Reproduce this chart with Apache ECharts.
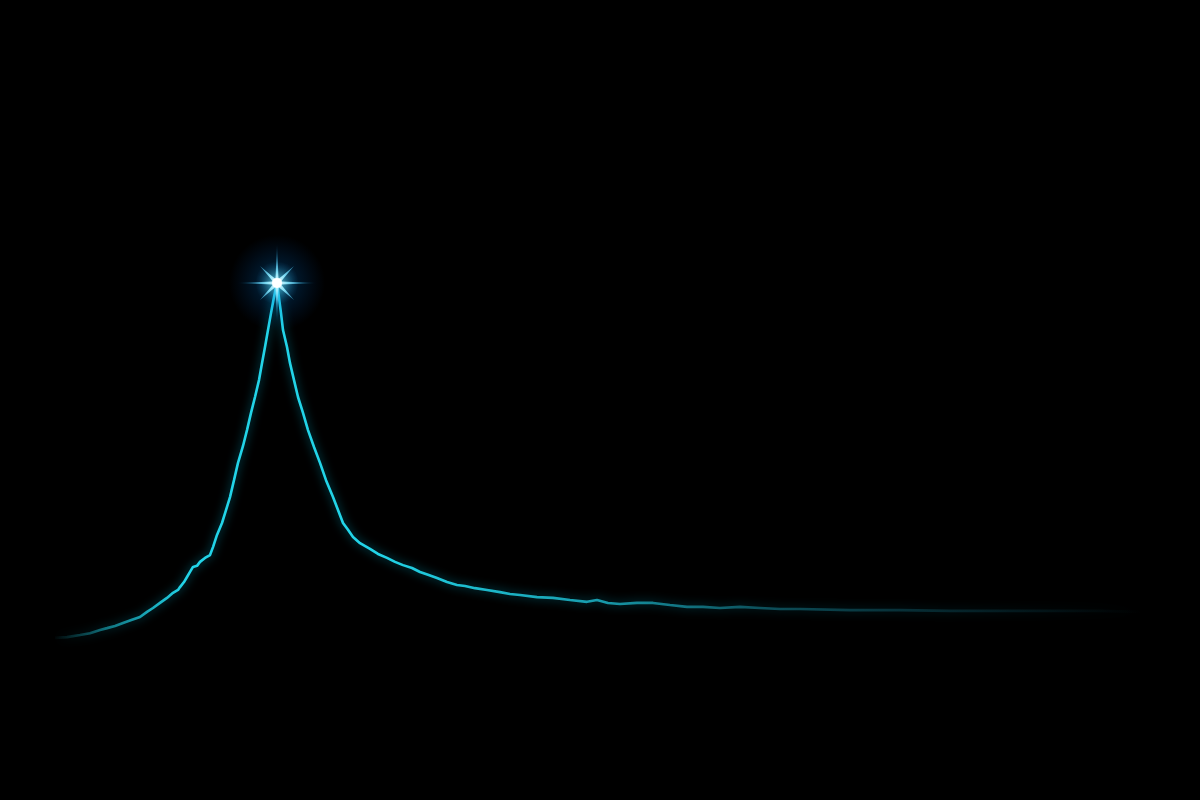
<!DOCTYPE html>
<html>
<head>
<meta charset="utf-8">
<script src="https://cdn.jsdelivr.net/npm/echarts@6/dist/echarts.min.js"></script>
<style>
  html, body { margin: 0; padding: 0; background: #000; }
  #chart { width: 1200px; height: 800px; }
</style>
</head>
<body>
<div id="chart"></div>
<script>
// time axis (arbitrary units) and signal intensity (peak ~ 100)
const time = [
  5.5, 6.7, 8.0, 9.0, 10.0, 10.7, 11.5, 12.3, 13.2, 14.0,
  14.7, 15.3, 16.0, 16.7, 17.3, 17.8, 18.0, 18.4, 18.7, 19.0,
  19.3, 19.7, 20.0, 20.2, 20.5, 20.7, 21.0, 21.3, 21.7, 22.2,
  22.6, 23.0, 23.4, 23.8, 24.3, 24.7, 25.1, 25.5, 25.9, 26.2,
  26.5, 26.8, 27.1, 27.4, 27.7, 27.9, 28.1, 28.3, 28.7, 29.0,
  29.4, 29.8, 30.3, 30.8, 31.4, 32.0, 32.6, 33.3, 33.8, 34.3,
  34.8, 35.3, 36.0, 37.0, 37.8, 38.7, 39.5, 40.3, 41.2, 42.0,
  42.8, 43.7, 44.7, 45.7, 46.5, 47.5, 48.7, 50.0, 51.0, 52.0,
  53.7, 55.3, 57.0, 58.7, 59.7, 60.8, 62.0, 63.7, 65.3, 67.0,
  68.7, 70.3, 72.0, 74.0, 76.0, 78.0, 80.0, 85.0, 90.0, 95.0,
  100.0, 105.0, 110.0, 114.0
]
const intensity = [
  0.6, 0.8, 1.4, 1.9, 2.8, 3.3, 3.9, 4.7, 5.6, 6.4,
  7.8, 8.9, 10.3, 11.7, 13.1, 13.9, 14.7, 16.1, 17.5, 18.9,
  20.3, 20.6, 21.7, 21.9, 22.8, 22.8, 23.6, 25.8, 29.2, 32.5,
  36.1, 39.7, 44.4, 49.2, 53.9, 58.3, 63.1, 67.5, 72.2, 76.9,
  81.4, 86.1, 90.8, 95.3, 99.2, 95.0, 90.8, 86.1, 81.4, 76.9,
  72.2, 67.5, 63.1, 58.3, 53.6, 49.2, 44.4, 39.7, 36.1, 32.5,
  30.6, 28.6, 26.9, 25.3, 23.9, 22.8, 21.7, 20.8, 20.0, 18.9,
  18.1, 17.2, 16.1, 15.3, 15.0, 14.4, 13.9, 13.3, 12.8, 12.5,
  11.9, 11.7, 11.1, 10.6, 11.1, 10.3, 10.0, 10.3, 10.3, 9.7,
  9.2, 9.2, 8.9, 9.2, 8.9, 8.6, 8.6, 8.3, 8.3, 8.1,
  8.1, 8.1, 8.1, 7.8
]

const points = time.map((t, i) => [t, intensity[i]])

// 8-point flare for the peak
const starPath = 'path://M0,-40 L1.5,-4 L17,-17 L4,-1.5 L40,0 L4,1.5 L17,17 L1.5,4 ' +
  'L0,40 L-1.5,4 L-17,17 L-4,1.5 L-40,0 L-4,-1.5 L-17,-17 L-1.5,-4 Z'

const chart = echarts.init(document.getElementById('chart'))

chart.setOption({
  backgroundColor: '#000',
  animation: false,
  grid: { left: 0, right: 0, top: 280, bottom: 160 },
  xAxis: { type: 'value', min: 0, max: 120, show: false },
  yAxis: { type: 'value', min: 0, max: 100, show: false },
  series: [{
    type: 'line',
    data: points,
    showSymbol: false,
    clip: false,
    smooth: false,
    lineStyle: {
      width: 2.6,
      color: new echarts.graphic.LinearGradient(0, 0, 1, 0, [
        { offset: 0, color: 'rgba(30,200,220,0)' },
        { offset: 0.05, color: 'rgba(30,200,220,0.55)' },
        { offset: 0.12, color: '#22d4e8' },
        { offset: 0.3, color: '#22d4e8' },
        { offset: 0.5, color: 'rgba(30,190,210,0.8)' },
        { offset: 0.65, color: 'rgba(25,150,170,0.5)' },
        { offset: 0.85, color: 'rgba(20,110,130,0.25)' },
        { offset: 1, color: 'rgba(20,100,120,0)' }
      ]),
      shadowBlur: 10,
      shadowColor: 'rgba(0,190,225,0.6)'
    },
    markPoint: {
      silent: true,
      label: { show: false },
      data: [
        {
          type: 'max', symbol: 'circle', symbolSize: 96,
          itemStyle: {
            color: new echarts.graphic.RadialGradient(0.5, 0.5, 0.5, [
              { offset: 0, color: 'rgba(160,240,255,0.95)' },
              { offset: 0.15, color: 'rgba(30,185,240,0.55)' },
              { offset: 0.45, color: 'rgba(0,120,220,0.18)' },
              { offset: 1, color: 'rgba(0,90,200,0)' }
            ])
          }
        },
        {
          type: 'max', symbol: starPath, symbolSize: 80,
          itemStyle: {
            color: new echarts.graphic.RadialGradient(0.5, 0.5, 0.5, [
              { offset: 0, color: '#ffffff' },
              { offset: 0.25, color: 'rgba(130,230,255,0.95)' },
              { offset: 1, color: 'rgba(0,150,220,0)' }
            ])
          }
        },
        {
          type: 'max', symbol: 'circle', symbolSize: 10,
          itemStyle: { color: '#ffffff', shadowBlur: 14, shadowColor: '#c8f6ff' }
        }
      ]
    }
  }]
})
</script>
</body>
</html>
